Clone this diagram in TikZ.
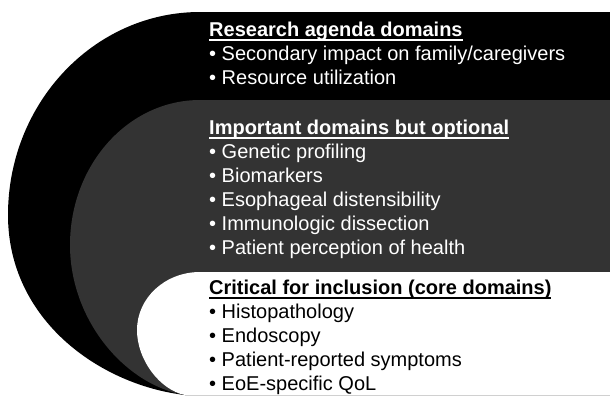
\documentclass[tikz,border=0pt]{standalone}
\usepackage{fontspec}
\setmainfont{Liberation Sans}
\usepackage{tikz}
\definecolor{ringblack}{HTML}{000000}
\definecolor{ringgray}{HTML}{333333}
\newcommand{\hdline}[1]{\setbox0\hbox{\bfseries #1}\rlap{\rule[-4.5bp]{\wd0}{1.8bp}}\box0}

\begin{document}
\begin{tikzpicture}[x=1bp,y=-1bp,
  sect/.style={anchor=base west,inner sep=0pt,align=left,
    font=\fontsize{20bp}{24bp}\selectfont},
  ondark/.style={sect,text=white},
  onlight/.style={sect,text=black}]
\useasboundingbox (0,0) rectangle (610,395);
% outer band
\fill[ringblack] (610,12) -- (200,12) .. controls (94,12) and (8,103) .. (8,215)
  .. controls (8,320) and (100,385) .. (185,395) -- (610,395) -- cycle;
% middle band
\fill[ringgray] (610,100) -- (200,100) .. controls (128,100) and (70,165) .. (70,245)
  .. controls (70,320) and (125,385) .. (185,395) -- (610,395) -- cycle;
% core
\fill[white] (610,272) -- (200,272) .. controls (165,272) and (137,298) .. (137,330)
  .. controls (137,360) and (160,390) .. (185,395) -- (610,395) -- cycle;
% base anchor sits on the last line
\node[ondark] (agenda) at (209,84) {\hdline{Research agenda domains}\\
  • Secondary impact on family/caregivers\\• Resource utilization};
\node[ondark] (optional) at (209,254) {\hdline{Important domains but optional}\\
  • Genetic profiling\\• Biomarkers\\• Esophageal distensibility\\
  • Immunologic dissection\\• Patient perception of health};
\node[onlight] (core) at (209,390) {\hdline{Critical for inclusion (core domains)}\\
  • Histopathology\\• Endoscopy\\• Patient-reported symptoms\\• EoE-specific QoL};
\end{tikzpicture}
\end{document}
